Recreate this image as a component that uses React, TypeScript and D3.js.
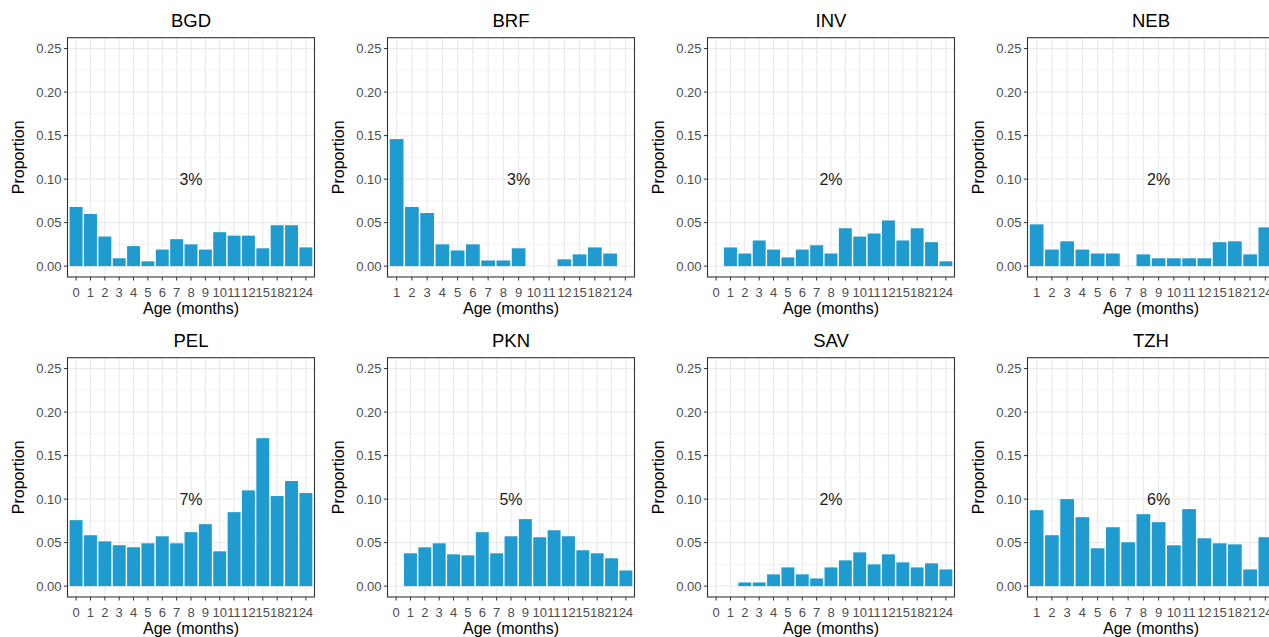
import React from "react";
import * as d3 from "d3";

// facet names and labels
const sites = ["BGD", "BRF", "INV", "NEB", "PEL", "PKN", "SAV", "TZH"];
const pctLabels = ["3%", "3%", "2%", "2%", "7%", "5%", "2%", "6%"];

const agesFull = ["0", "1", "2", "3", "4", "5", "6", "7", "8", "9", "10", "11", "12", "15", "18", "21", "24"];
const agesNoZero = ["1", "2", "3", "4", "5", "6", "7", "8", "9", "10", "11", "12", "15", "18", "21", "24"];

// proportions per age, null = no bar
const bgd = [0.068, 0.06, 0.034, 0.009, 0.023, 0.0055, 0.019, 0.031, 0.025, 0.019, 0.039, 0.035, 0.035, 0.0205, 0.047, 0.047, 0.0215];
const brf = [0.146, 0.068, 0.061, 0.025, 0.018, 0.025, 0.0065, 0.0065, 0.0205, null, null, 0.0078, 0.0135, 0.0215, 0.0145, null];
const inv = [null, 0.0215, 0.0145, 0.0295, 0.019, 0.01, 0.019, 0.024, 0.0145, 0.0435, 0.034, 0.0375, 0.0525, 0.0295, 0.0435, 0.0275, 0.0055];
const neb = [0.048, 0.019, 0.0285, 0.019, 0.0145, 0.0145, null, 0.0135, 0.009, 0.009, 0.009, 0.009, 0.0275, 0.0285, 0.0135, 0.0445];
const pel = [0.0758, 0.0585, 0.0515, 0.047, 0.0447, 0.0492, 0.0573, 0.0492, 0.062, 0.0712, 0.04, 0.085, 0.11, 0.17, 0.1035, 0.1208, 0.107];
const pkn = [null, 0.0377, 0.0446, 0.0492, 0.0365, 0.0354, 0.062, 0.0377, 0.0573, 0.077, 0.0562, 0.0642, 0.0573, 0.0412, 0.0377, 0.032, 0.018];
const sav = [null, null, 0.0042, 0.0042, 0.0135, 0.0215, 0.0135, 0.0088, 0.0215, 0.0296, 0.0388, 0.025, 0.0365, 0.0273, 0.0215, 0.0262, 0.0192];
const tzh = [0.0873, 0.0585, 0.1, 0.0792, 0.0435, 0.0677, 0.0504, 0.0827, 0.0735, 0.0469, 0.0885, 0.055, 0.0492, 0.048, 0.0192, 0.0562];

const siteAges = [agesFull, agesNoZero, agesFull, agesNoZero, agesFull, agesFull, agesFull, agesNoZero];
const siteValues = [bgd, brf, inv, neb, pel, pkn, sav, tzh];

const yTicks = [0, 0.05, 0.1, 0.15, 0.2, 0.25];
const yMinor = [0.025, 0.075, 0.125, 0.175, 0.225];

const W = 1269;
const H = 637;
const font = "'Liberation Sans', Arial, Helvetica, sans-serif";
const barColor = "#1f9bcf";

function Panel({ idx }: { idx: number }) {
  const col = idx % 4;
  const row = Math.floor(idx / 4);
  const ox = col * 320;
  const oy = row * 320;
  const left = ox + 67.5;
  const right = ox + 314.5;
  const top = oy + 37.7;
  const bottom = oy + 277;

  const ages = siteAges[idx];
  const vals = siteValues[idx];

  const x = d3.scalePoint<string>().domain(ages).range([left, right]).padding(0.6);
  const step = x.step();
  const bw = step * 0.9;
  const y = d3.scaleLinear().domain([-0.0125, 0.2625]).range([bottom, top]);
  const fmt = d3.format(".2f");

  return (
    <g>
      <text x={(left + right) / 2} y={oy + 27} textAnchor="middle" fontSize={18.5} fill="#000">
        {sites[idx]}
      </text>
      <rect x={left} y={top} width={right - left} height={bottom - top} fill="#fff" />
      {yMinor.map((t) => (
        <line key={"m" + t} x1={left} x2={right} y1={y(t)} y2={y(t)} stroke="#ebebeb" strokeWidth={0.6} />
      ))}
      {yTicks.map((t) => (
        <line key={"g" + t} x1={left} x2={right} y1={y(t)} y2={y(t)} stroke="#ebebeb" strokeWidth={1.2} />
      ))}
      {ages.map((a) => (
        <line key={"v" + a} x1={x(a)} x2={x(a)} y1={top} y2={bottom} stroke="#ebebeb" strokeWidth={1.2} />
      ))}
      {ages.map((a, i) =>
        vals[i] == null ? null : (
          <rect
            key={"b" + a}
            x={(x(a) as number) - bw / 2}
            y={y(vals[i] as number)}
            width={bw}
            height={y(0) - y(vals[i] as number)}
            fill={barColor}
          />
        )
      )}
      <text x={x(ages[8])} y={y(0.1) + 5.5} textAnchor="middle" fontSize={16} fill="#1a1a1a">
        {pctLabels[idx]}
      </text>
      <rect x={left} y={top} width={right - left} height={bottom - top} fill="none" stroke="#333" strokeWidth={1.1} />
      {yTicks.map((t) => (
        <g key={"yt" + t}>
          <line x1={left - 3.5} x2={left} y1={y(t)} y2={y(t)} stroke="#333" strokeWidth={1} />
          <text x={left - 6} y={y(t) + 4.5} textAnchor="end" fontSize={13} fill="#4d4d4d">
            {fmt(t)}
          </text>
        </g>
      ))}
      {ages.map((a) => (
        <g key={"xt" + a}>
          <line x1={x(a)} x2={x(a)} y1={bottom} y2={bottom + 3.5} stroke="#333" strokeWidth={1} />
          <text x={x(a)} y={bottom + 20} textAnchor="middle" fontSize={13} fill="#4d4d4d">
            {a}
          </text>
        </g>
      ))}
      <text x={(left + right) / 2} y={oy + 313.5} textAnchor="middle" fontSize={16} fill="#000">
        Age (months)
      </text>
      <text
        transform={`translate(${ox + 23.5},${(top + bottom) / 2}) rotate(-90)`}
        textAnchor="middle"
        fontSize={16}
        fill="#000"
      >
        Proportion
      </text>
    </g>
  );
}

export default function App() {
  return (
    <svg
      width={W}
      height={H}
      style={{ position: "absolute", left: 0, top: 0, background: "#fff" }}
      fontFamily={font}
    >
      <rect width={W} height={H} fill="#fff" />
      {sites.map((s, i) => (
        <Panel key={s} idx={i} />
      ))}
    </svg>
  );
}
